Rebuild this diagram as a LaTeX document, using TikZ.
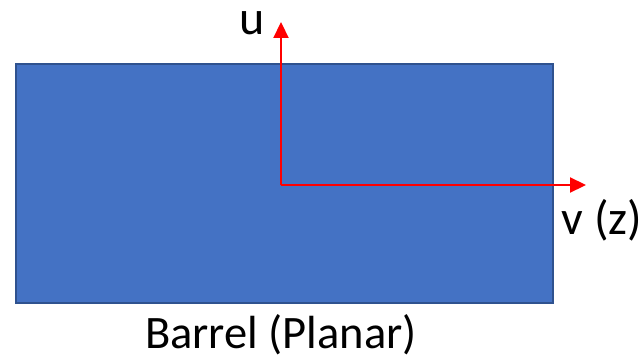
\documentclass[tikz,border=0pt]{standalone}
\usepackage{fontspec}
\setmainfont{Carlito}
\usetikzlibrary{arrows.meta}
\definecolor{boxfill}{HTML}{4472C4}
\definecolor{boxedge}{HTML}{2F528F}
\tikzset{
  axis/.style={draw=red, line width=2.2pt, -{Triangle[length=16pt,width=15pt]}},
  bigtxt/.style={font=\fontsize{48}{50}\selectfont, inner sep=0pt, anchor=base},
  captxt/.style={font=\fontsize{46.5}{50}\selectfont, inner sep=0pt, anchor=base}
}
\begin{document}
\begin{tikzpicture}[x=1pt,y=-1pt]
\useasboundingbox (0,0) rectangle (643,361);
\draw[fill=boxfill, draw=boxedge, line width=2pt] (16,64) rectangle (553,303);
\coordinate (o) at (281,185);
\coordinate (ut) at (281,22);
\coordinate (vt) at (586,185);
\draw[axis] (o) -- (ut);
\draw[axis] (o) -- (vt);
\node[bigtxt] (u) at (252,35) {u};
\node[bigtxt] (v) at (602,234) {v (z)};
\node[captxt] (cap) at (281,348) {Barrel (Planar)};
\end{tikzpicture}
\end{document}
